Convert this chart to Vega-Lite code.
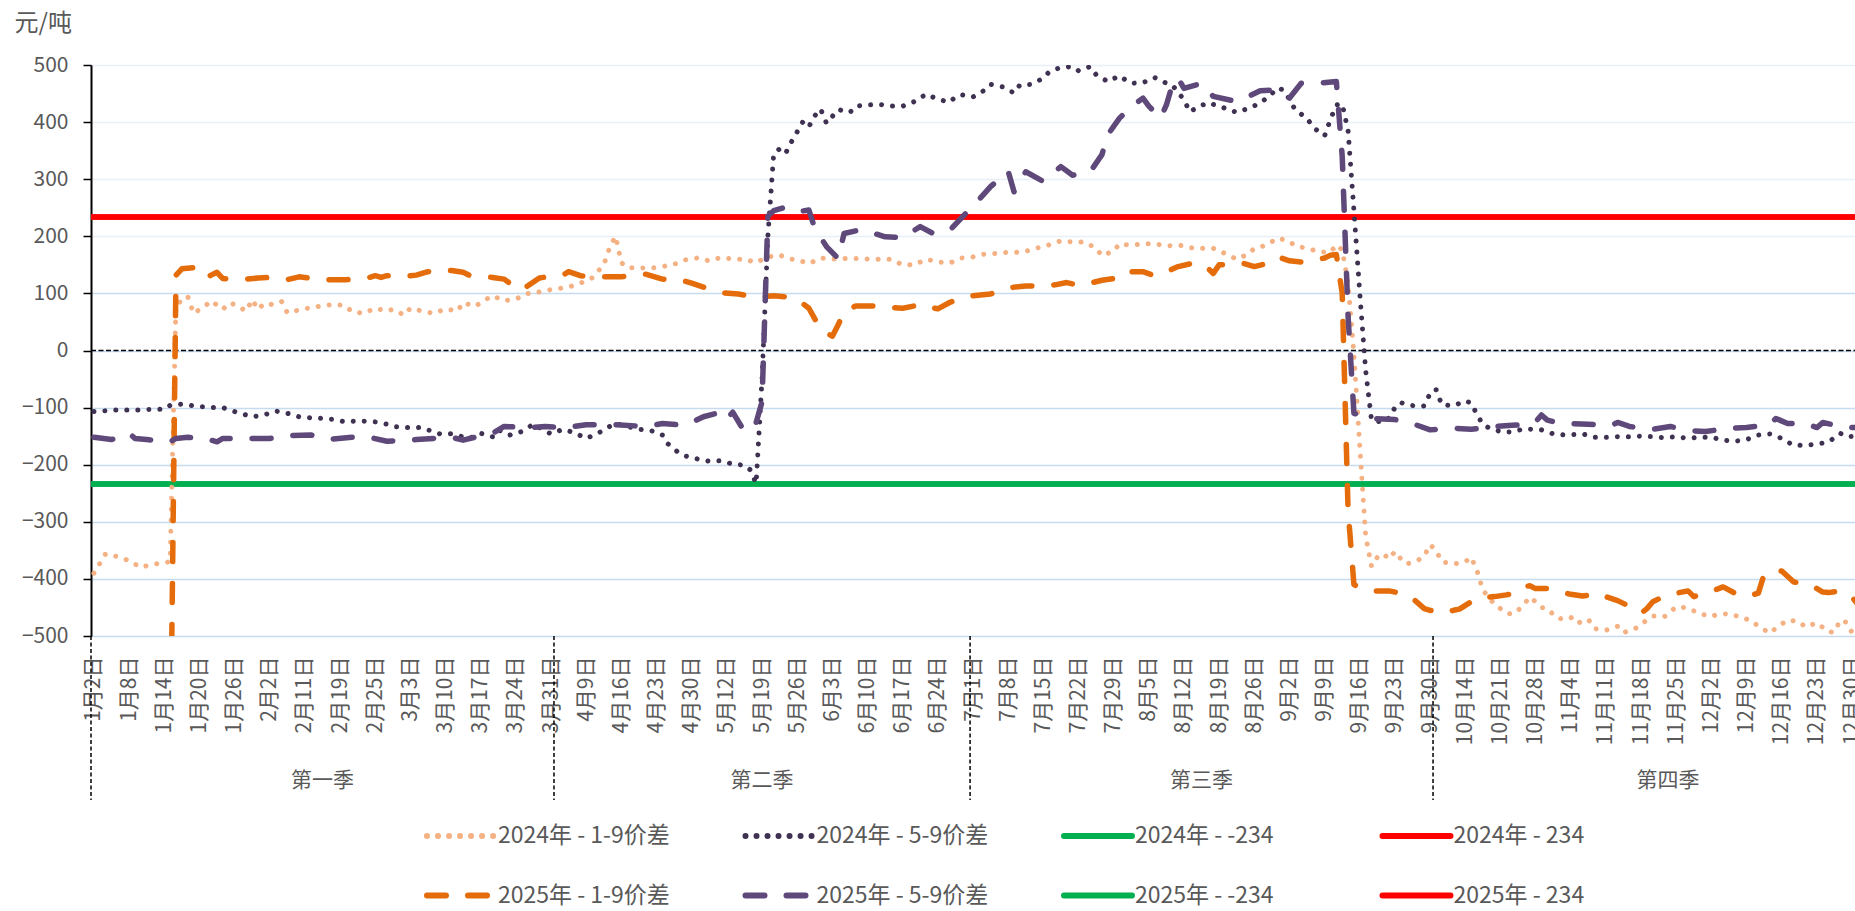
{
"$schema": "https://vega.github.io/schema/vega-lite/v6.json",
"width": 1764, "height": 571,
"autosize": {"type": "none"},
"padding": {"left": 91, "top": 65, "right": 0, "bottom": 275},
"background": "white",
"config": {"font": "Noto Sans CJK SC", "view": {"stroke": null}},
"datasets": {
"lim": [
{"s":"N24","i":-0.5,"v":-234},{"s":"N24","i":300.5,"v":-234},
{"s":"P24","i":-0.5,"v":234},{"s":"P24","i":300.5,"v":234},
{"s":"N25","i":-0.5,"v":-234},{"s":"N25","i":300.5,"v":-234},
{"s":"P25","i":-0.5,"v":234},{"s":"P25","i":300.5,"v":234}
],
"dot": [
{"s":"A","i":0,"v":-390},{"s":"A","i":1,"v":-373},{"s":"A","i":2,"v":-356},{"s":"A","i":4,"v":-361},{"s":"A","i":6,"v":-368},{"s":"A","i":8,"v":-380},{"s":"A","i":9,"v":-377},{"s":"A","i":11,"v":-373},{"s":"A","i":13,"v":-370},{"s":"A","i":14,"v":80},{"s":"A","i":16,"v":95},{"s":"A","i":17,"v":65},{"s":"A","i":19,"v":78},{"s":"A","i":20,"v":87},{"s":"A","i":22,"v":72},{"s":"A","i":23,"v":83},{"s":"A","i":24,"v":81},{"s":"A","i":26,"v":69},{"s":"A","i":27,"v":89},{"s":"A","i":28,"v":72},{"s":"A","i":29,"v":82},{"s":"A","i":30,"v":80},{"s":"A","i":32,"v":86},{"s":"A","i":33,"v":66},{"s":"A","i":35,"v":71},{"s":"A","i":37,"v":75},{"s":"A","i":39,"v":78},{"s":"A","i":41,"v":81},{"s":"A","i":43,"v":78},{"s":"A","i":44,"v":68},{"s":"A","i":46,"v":65},{"s":"A","i":48,"v":74},{"s":"A","i":50,"v":69},{"s":"A","i":51,"v":72},{"s":"A","i":53,"v":62},{"s":"A","i":54,"v":74},{"s":"A","i":56,"v":69},{"s":"A","i":58,"v":65},{"s":"A","i":60,"v":73},{"s":"A","i":62,"v":69},{"s":"A","i":63,"v":84},{"s":"A","i":65,"v":77},{"s":"A","i":67,"v":90},{"s":"A","i":68,"v":96},{"s":"A","i":70,"v":87},{"s":"A","i":72,"v":90},{"s":"A","i":74,"v":100},{"s":"A","i":75,"v":100},{"s":"A","i":77,"v":105},{"s":"A","i":79,"v":108},{"s":"A","i":81,"v":111},{"s":"A","i":83,"v":118},{"s":"A","i":85,"v":127},{"s":"A","i":87,"v":150},{"s":"A","i":88,"v":180},{"s":"A","i":89,"v":200},{"s":"A","i":90,"v":154},{"s":"A","i":91,"v":145},{"s":"A","i":93,"v":145},{"s":"A","i":95,"v":144},{"s":"A","i":97,"v":147},{"s":"A","i":99,"v":151},{"s":"A","i":101,"v":159},{"s":"A","i":103,"v":162},{"s":"A","i":105,"v":157},{"s":"A","i":107,"v":163},{"s":"A","i":109,"v":160},{"s":"A","i":111,"v":160},{"s":"A","i":113,"v":154},{"s":"A","i":115,"v":164},{"s":"A","i":117,"v":167},{"s":"A","i":119,"v":160},{"s":"A","i":120,"v":159},{"s":"A","i":122,"v":152},{"s":"A","i":124,"v":162},{"s":"A","i":126,"v":160},{"s":"A","i":128,"v":161},{"s":"A","i":130,"v":161},{"s":"A","i":132,"v":160},{"s":"A","i":134,"v":160},{"s":"A","i":136,"v":160},{"s":"A","i":138,"v":150},{"s":"A","i":140,"v":150},{"s":"A","i":142,"v":160},{"s":"A","i":144,"v":155},{"s":"A","i":146,"v":153},{"s":"A","i":148,"v":162},{"s":"A","i":150,"v":164},{"s":"A","i":152,"v":169},{"s":"A","i":154,"v":170},{"s":"A","i":156,"v":172},{"s":"A","i":158,"v":172},{"s":"A","i":160,"v":176},{"s":"A","i":162,"v":183},{"s":"A","i":163,"v":185},{"s":"A","i":165,"v":192},{"s":"A","i":167,"v":190},{"s":"A","i":169,"v":190},{"s":"A","i":171,"v":179},{"s":"A","i":172,"v":166},{"s":"A","i":174,"v":174},{"s":"A","i":175,"v":187},{"s":"A","i":177,"v":184},{"s":"A","i":179,"v":187},{"s":"A","i":181,"v":187},{"s":"A","i":183,"v":183},{"s":"A","i":185,"v":185},{"s":"A","i":187,"v":180},{"s":"A","i":189,"v":179},{"s":"A","i":191,"v":179},{"s":"A","i":193,"v":170},{"s":"A","i":195,"v":160},{"s":"A","i":197,"v":169},{"s":"A","i":198,"v":179},{"s":"A","i":200,"v":184},{"s":"A","i":202,"v":197},{"s":"A","i":204,"v":191},{"s":"A","i":205,"v":183},{"s":"A","i":207,"v":179},{"s":"A","i":209,"v":173},{"s":"A","i":211,"v":172},{"s":"A","i":212,"v":185},{"s":"A","i":213,"v":176},{"s":"A","i":214,"v":118},{"s":"A","i":215,"v":-8},{"s":"A","i":216,"v":-168},{"s":"A","i":217,"v":-325},{"s":"A","i":218,"v":-378},{"s":"A","i":219,"v":-362},{"s":"A","i":220,"v":-356},{"s":"A","i":221,"v":-365},{"s":"A","i":222,"v":-352},{"s":"A","i":223,"v":-365},{"s":"A","i":224,"v":-374},{"s":"A","i":226,"v":-367},{"s":"A","i":227,"v":-360},{"s":"A","i":228,"v":-340},{"s":"A","i":229,"v":-350},{"s":"A","i":230,"v":-370},{"s":"A","i":232,"v":-374},{"s":"A","i":234,"v":-370},{"s":"A","i":235,"v":-362},{"s":"A","i":236,"v":-385},{"s":"A","i":237,"v":-420},{"s":"A","i":238,"v":-432},{"s":"A","i":239,"v":-445},{"s":"A","i":240,"v":-452},{"s":"A","i":241,"v":-460},{"s":"A","i":242,"v":-462},{"s":"A","i":243,"v":-455},{"s":"A","i":244,"v":-445},{"s":"A","i":245,"v":-432},{"s":"A","i":246,"v":-440},{"s":"A","i":247,"v":-450},{"s":"A","i":248,"v":-452},{"s":"A","i":249,"v":-462},{"s":"A","i":250,"v":-470},{"s":"A","i":252,"v":-467},{"s":"A","i":253,"v":-478},{"s":"A","i":255,"v":-471},{"s":"A","i":256,"v":-487},{"s":"A","i":258,"v":-490},{"s":"A","i":260,"v":-483},{"s":"A","i":261,"v":-494},{"s":"A","i":263,"v":-487},{"s":"A","i":265,"v":-472},{"s":"A","i":266,"v":-465},{"s":"A","i":268,"v":-466},{"s":"A","i":270,"v":-449},{"s":"A","i":272,"v":-451},{"s":"A","i":274,"v":-461},{"s":"A","i":276,"v":-466},{"s":"A","i":277,"v":-462},{"s":"A","i":279,"v":-461},{"s":"A","i":281,"v":-467},{"s":"A","i":283,"v":-474},{"s":"A","i":284,"v":-483},{"s":"A","i":286,"v":-495},{"s":"A","i":287,"v":-486},{"s":"A","i":289,"v":-472},{"s":"A","i":291,"v":-475},{"s":"A","i":292,"v":-484},{"s":"A","i":294,"v":-477},{"s":"A","i":296,"v":-493},{"s":"A","i":297,"v":-493},{"s":"A","i":298,"v":-472},{"s":"A","i":299,"v":-476},{"s":"A","i":300,"v":-494},{"s":"A","i":301,"v":-490},
{"s":"B","i":0,"v":-107},{"s":"B","i":1,"v":-107},{"s":"B","i":3,"v":-104},{"s":"B","i":5,"v":-104},{"s":"B","i":8,"v":-104},{"s":"B","i":10,"v":-103},{"s":"B","i":12,"v":-103},{"s":"B","i":13,"v":-96},{"s":"B","i":15,"v":-94},{"s":"B","i":17,"v":-97},{"s":"B","i":20,"v":-100},{"s":"B","i":22,"v":-100},{"s":"B","i":24,"v":-107},{"s":"B","i":25,"v":-110},{"s":"B","i":27,"v":-116},{"s":"B","i":29,"v":-113},{"s":"B","i":31,"v":-106},{"s":"B","i":33,"v":-110},{"s":"B","i":35,"v":-116},{"s":"B","i":37,"v":-118},{"s":"B","i":39,"v":-119},{"s":"B","i":41,"v":-121},{"s":"B","i":43,"v":-125},{"s":"B","i":45,"v":-123},{"s":"B","i":48,"v":-125},{"s":"B","i":50,"v":-129},{"s":"B","i":51,"v":-133},{"s":"B","i":53,"v":-135},{"s":"B","i":56,"v":-135},{"s":"B","i":57,"v":-139},{"s":"B","i":59,"v":-146},{"s":"B","i":61,"v":-146},{"s":"B","i":64,"v":-154},{"s":"B","i":66,"v":-145},{"s":"B","i":68,"v":-151},{"s":"B","i":69,"v":-139},{"s":"B","i":71,"v":-148},{"s":"B","i":73,"v":-142},{"s":"B","i":75,"v":-129},{"s":"B","i":77,"v":-141},{"s":"B","i":78,"v":-146},{"s":"B","i":80,"v":-138},{"s":"B","i":82,"v":-144},{"s":"B","i":84,"v":-154},{"s":"B","i":86,"v":-145},{"s":"B","i":88,"v":-133},{"s":"B","i":89,"v":-128},{"s":"B","i":91,"v":-133},{"s":"B","i":93,"v":-138},{"s":"B","i":95,"v":-140},{"s":"B","i":97,"v":-148},{"s":"B","i":98,"v":-164},{"s":"B","i":100,"v":-181},{"s":"B","i":101,"v":-185},{"s":"B","i":103,"v":-190},{"s":"B","i":105,"v":-194},{"s":"B","i":107,"v":-193},{"s":"B","i":109,"v":-199},{"s":"B","i":111,"v":-201},{"s":"B","i":112,"v":-209},{"s":"B","i":113,"v":-233},{"s":"B","i":114,"v":-50},{"s":"B","i":115,"v":200},{"s":"B","i":116,"v":345},{"s":"B","i":117,"v":353},{"s":"B","i":118,"v":345},{"s":"B","i":119,"v":365},{"s":"B","i":120,"v":383},{"s":"B","i":121,"v":401},{"s":"B","i":122,"v":392},{"s":"B","i":123,"v":411},{"s":"B","i":124,"v":423},{"s":"B","i":125,"v":398},{"s":"B","i":127,"v":422},{"s":"B","i":129,"v":417},{"s":"B","i":130,"v":428},{"s":"B","i":132,"v":430},{"s":"B","i":134,"v":431},{"s":"B","i":136,"v":428},{"s":"B","i":138,"v":428},{"s":"B","i":140,"v":436},{"s":"B","i":142,"v":449},{"s":"B","i":144,"v":440},{"s":"B","i":146,"v":435},{"s":"B","i":147,"v":444},{"s":"B","i":148,"v":448},{"s":"B","i":150,"v":444},{"s":"B","i":152,"v":456},{"s":"B","i":153,"v":466},{"s":"B","i":155,"v":462},{"s":"B","i":157,"v":451},{"s":"B","i":158,"v":465},{"s":"B","i":160,"v":466},{"s":"B","i":162,"v":477},{"s":"B","i":163,"v":488},{"s":"B","i":165,"v":496},{"s":"B","i":167,"v":497},{"s":"B","i":168,"v":490},{"s":"B","i":170,"v":497},{"s":"B","i":171,"v":483},{"s":"B","i":173,"v":471},{"s":"B","i":175,"v":481},{"s":"B","i":176,"v":474},{"s":"B","i":177,"v":468},{"s":"B","i":179,"v":469},{"s":"B","i":181,"v":478},{"s":"B","i":183,"v":468},{"s":"B","i":184,"v":465},{"s":"B","i":186,"v":439},{"s":"B","i":187,"v":418},{"s":"B","i":188,"v":424},{"s":"B","i":190,"v":434},{"s":"B","i":192,"v":428},{"s":"B","i":195,"v":417},{"s":"B","i":197,"v":424},{"s":"B","i":199,"v":433},{"s":"B","i":201,"v":450},{"s":"B","i":202,"v":460},{"s":"B","i":203,"v":456},{"s":"B","i":204,"v":440},{"s":"B","i":205,"v":421},{"s":"B","i":207,"v":407},{"s":"B","i":208,"v":391},{"s":"B","i":210,"v":376},{"s":"B","i":211,"v":405},{"s":"B","i":212,"v":430},{"s":"B","i":213,"v":432},{"s":"B","i":214,"v":385},{"s":"B","i":215,"v":245},{"s":"B","i":216,"v":100},{"s":"B","i":217,"v":-35},{"s":"B","i":218,"v":-122},{"s":"B","i":220,"v":-126},{"s":"B","i":221,"v":-118},{"s":"B","i":222,"v":-100},{"s":"B","i":223,"v":-91},{"s":"B","i":224,"v":-95},{"s":"B","i":226,"v":-98},{"s":"B","i":227,"v":-97},{"s":"B","i":228,"v":-75},{"s":"B","i":229,"v":-68},{"s":"B","i":230,"v":-95},{"s":"B","i":232,"v":-97},{"s":"B","i":234,"v":-88},{"s":"B","i":235,"v":-92},{"s":"B","i":236,"v":-112},{"s":"B","i":237,"v":-130},{"s":"B","i":238,"v":-135},{"s":"B","i":240,"v":-142},{"s":"B","i":242,"v":-143},{"s":"B","i":244,"v":-137},{"s":"B","i":247,"v":-139},{"s":"B","i":249,"v":-146},{"s":"B","i":251,"v":-148},{"s":"B","i":253,"v":-147},{"s":"B","i":254,"v":-146},{"s":"B","i":256,"v":-152},{"s":"B","i":258,"v":-152},{"s":"B","i":260,"v":-151},{"s":"B","i":262,"v":-151},{"s":"B","i":264,"v":-150},{"s":"B","i":266,"v":-151},{"s":"B","i":268,"v":-153},{"s":"B","i":270,"v":-151},{"s":"B","i":272,"v":-154},{"s":"B","i":274,"v":-152},{"s":"B","i":276,"v":-152},{"s":"B","i":278,"v":-157},{"s":"B","i":280,"v":-159},{"s":"B","i":282,"v":-156},{"s":"B","i":284,"v":-148},{"s":"B","i":286,"v":-146},{"s":"B","i":288,"v":-154},{"s":"B","i":290,"v":-166},{"s":"B","i":292,"v":-166},{"s":"B","i":294,"v":-164},{"s":"B","i":296,"v":-160},{"s":"B","i":298,"v":-145},{"s":"B","i":299,"v":-151},{"s":"B","i":301,"v":-150}
],
"dash": [
{"s":"C","i":0,"v":-620},{"s":"C","i":2,"v":-580},{"s":"C","i":4,"v":-530},{"s":"C","i":5,"v":-505},{"s":"C","i":6,"v":-508},{"s":"C","i":8,"v":-560},{"s":"C","i":10,"v":-620},{"s":"C","i":12,"v":-700},{"s":"C","i":13,"v":-760},{"s":"C","i":14,"v":132},{"s":"C","i":15,"v":143},{"s":"C","i":17,"v":145},{"s":"C","i":19,"v":127},{"s":"C","i":20,"v":132},{"s":"C","i":21,"v":137},{"s":"C","i":22,"v":126},{"s":"C","i":24,"v":124},{"s":"C","i":26,"v":125},{"s":"C","i":28,"v":127},{"s":"C","i":30,"v":128},{"s":"C","i":33,"v":124},{"s":"C","i":35,"v":129},{"s":"C","i":36,"v":128},{"s":"C","i":38,"v":125},{"s":"C","i":40,"v":124},{"s":"C","i":43,"v":124},{"s":"C","i":45,"v":125},{"s":"C","i":47,"v":128},{"s":"C","i":48,"v":131},{"s":"C","i":49,"v":128},{"s":"C","i":50,"v":131},{"s":"C","i":52,"v":131},{"s":"C","i":54,"v":131},{"s":"C","i":55,"v":132},{"s":"C","i":57,"v":138},{"s":"C","i":59,"v":140},{"s":"C","i":61,"v":140},{"s":"C","i":63,"v":137},{"s":"C","i":64,"v":132},{"s":"C","i":66,"v":131},{"s":"C","i":68,"v":128},{"s":"C","i":70,"v":125},{"s":"C","i":72,"v":110},{"s":"C","i":73,"v":106},{"s":"C","i":75,"v":120},{"s":"C","i":76,"v":127},{"s":"C","i":78,"v":130},{"s":"C","i":80,"v":132},{"s":"C","i":81,"v":138},{"s":"C","i":83,"v":131},{"s":"C","i":85,"v":129},{"s":"C","i":87,"v":129},{"s":"C","i":90,"v":129},{"s":"C","i":92,"v":131},{"s":"C","i":94,"v":134},{"s":"C","i":97,"v":125},{"s":"C","i":100,"v":124},{"s":"C","i":102,"v":118},{"s":"C","i":104,"v":111},{"s":"C","i":107,"v":101},{"s":"C","i":110,"v":99},{"s":"C","i":113,"v":93},{"s":"C","i":116,"v":96},{"s":"C","i":118,"v":94},{"s":"C","i":120,"v":90},{"s":"C","i":122,"v":74},{"s":"C","i":124,"v":37},{"s":"C","i":126,"v":25},{"s":"C","i":127,"v":45},{"s":"C","i":128,"v":68},{"s":"C","i":130,"v":78},{"s":"C","i":133,"v":78},{"s":"C","i":135,"v":76},{"s":"C","i":138,"v":74},{"s":"C","i":140,"v":78},{"s":"C","i":141,"v":81},{"s":"C","i":143,"v":75},{"s":"C","i":144,"v":73},{"s":"C","i":146,"v":84},{"s":"C","i":148,"v":92},{"s":"C","i":150,"v":96},{"s":"C","i":153,"v":99},{"s":"C","i":155,"v":106},{"s":"C","i":157,"v":111},{"s":"C","i":159,"v":113},{"s":"C","i":162,"v":113},{"s":"C","i":164,"v":115},{"s":"C","i":166,"v":119},{"s":"C","i":168,"v":114},{"s":"C","i":170,"v":118},{"s":"C","i":172,"v":123},{"s":"C","i":174,"v":126},{"s":"C","i":175,"v":136},{"s":"C","i":177,"v":138},{"s":"C","i":179,"v":138},{"s":"C","i":181,"v":131},{"s":"C","i":183,"v":138},{"s":"C","i":185,"v":147},{"s":"C","i":188,"v":154},{"s":"C","i":190,"v":145},{"s":"C","i":191,"v":135},{"s":"C","i":192,"v":150},{"s":"C","i":194,"v":150},{"s":"C","i":196,"v":153},{"s":"C","i":198,"v":147},{"s":"C","i":200,"v":152},{"s":"C","i":202,"v":164},{"s":"C","i":204,"v":157},{"s":"C","i":206,"v":155},{"s":"C","i":208,"v":157},{"s":"C","i":209,"v":160},{"s":"C","i":210,"v":162},{"s":"C","i":211,"v":167},{"s":"C","i":212,"v":168},{"s":"C","i":213,"v":100},{"s":"C","i":214,"v":-280},{"s":"C","i":215,"v":-410},{"s":"C","i":216,"v":-415},{"s":"C","i":218,"v":-421},{"s":"C","i":221,"v":-421},{"s":"C","i":223,"v":-425},{"s":"C","i":225,"v":-434},{"s":"C","i":227,"v":-452},{"s":"C","i":228,"v":-455},{"s":"C","i":230,"v":-460},{"s":"C","i":232,"v":-455},{"s":"C","i":233,"v":-453},{"s":"C","i":235,"v":-440},{"s":"C","i":236,"v":-433},{"s":"C","i":239,"v":-431},{"s":"C","i":241,"v":-428},{"s":"C","i":243,"v":-424},{"s":"C","i":244,"v":-414},{"s":"C","i":245,"v":-412},{"s":"C","i":246,"v":-417},{"s":"C","i":248,"v":-417},{"s":"C","i":250,"v":-422},{"s":"C","i":252,"v":-427},{"s":"C","i":254,"v":-430},{"s":"C","i":256,"v":-427},{"s":"C","i":257,"v":-425},{"s":"C","i":258,"v":-431},{"s":"C","i":260,"v":-438},{"s":"C","i":262,"v":-448},{"s":"C","i":264,"v":-460},{"s":"C","i":265,"v":-452},{"s":"C","i":266,"v":-440},{"s":"C","i":268,"v":-430},{"s":"C","i":270,"v":-425},{"s":"C","i":272,"v":-421},{"s":"C","i":273,"v":-431},{"s":"C","i":275,"v":-424},{"s":"C","i":277,"v":-418},{"s":"C","i":278,"v":-414},{"s":"C","i":280,"v":-425},{"s":"C","i":281,"v":-430},{"s":"C","i":283,"v":-428},{"s":"C","i":284,"v":-425},{"s":"C","i":285,"v":-392},{"s":"C","i":287,"v":-386},{"s":"C","i":288,"v":-386},{"s":"C","i":290,"v":-405},{"s":"C","i":292,"v":-410},{"s":"C","i":293,"v":-411},{"s":"C","i":295,"v":-423},{"s":"C","i":296,"v":-424},{"s":"C","i":298,"v":-421},{"s":"C","i":300,"v":-432},{"s":"C","i":301,"v":-445},
{"s":"D","i":0,"v":-152},{"s":"D","i":3,"v":-156},{"s":"D","i":5,"v":-150},{"s":"D","i":6,"v":-145},{"s":"D","i":7,"v":-154},{"s":"D","i":9,"v":-156},{"s":"D","i":13,"v":-160},{"s":"D","i":14,"v":-154},{"s":"D","i":16,"v":-152},{"s":"D","i":19,"v":-154},{"s":"D","i":21,"v":-160},{"s":"D","i":22,"v":-154},{"s":"D","i":26,"v":-154},{"s":"D","i":30,"v":-154},{"s":"D","i":33,"v":-149},{"s":"D","i":37,"v":-148},{"s":"D","i":40,"v":-156},{"s":"D","i":44,"v":-152},{"s":"D","i":47,"v":-152},{"s":"D","i":50,"v":-159},{"s":"D","i":55,"v":-156},{"s":"D","i":58,"v":-154},{"s":"D","i":61,"v":-152},{"s":"D","i":63,"v":-157},{"s":"D","i":65,"v":-152},{"s":"D","i":68,"v":-145},{"s":"D","i":70,"v":-133},{"s":"D","i":74,"v":-135},{"s":"D","i":77,"v":-133},{"s":"D","i":81,"v":-136},{"s":"D","i":82,"v":-133},{"s":"D","i":84,"v":-130},{"s":"D","i":87,"v":-130},{"s":"D","i":89,"v":-130},{"s":"D","i":94,"v":-133},{"s":"D","i":97,"v":-128},{"s":"D","i":101,"v":-131},{"s":"D","i":104,"v":-116},{"s":"D","i":107,"v":-108},{"s":"D","i":108,"v":-120},{"s":"D","i":109,"v":-108},{"s":"D","i":111,"v":-142},{"s":"D","i":112,"v":-130},{"s":"D","i":113,"v":-126},{"s":"D","i":114,"v":-90},{"s":"D","i":115,"v":235},{"s":"D","i":116,"v":245},{"s":"D","i":118,"v":251},{"s":"D","i":120,"v":243},{"s":"D","i":122,"v":246},{"s":"D","i":123,"v":214},{"s":"D","i":125,"v":182},{"s":"D","i":127,"v":161},{"s":"D","i":128,"v":205},{"s":"D","i":131,"v":212},{"s":"D","i":135,"v":199},{"s":"D","i":138,"v":198},{"s":"D","i":141,"v":217},{"s":"D","i":143,"v":206},{"s":"D","i":146,"v":210},{"s":"D","i":148,"v":232},{"s":"D","i":151,"v":264},{"s":"D","i":153,"v":287},{"s":"D","i":156,"v":314},{"s":"D","i":157,"v":278},{"s":"D","i":159,"v":313},{"s":"D","i":162,"v":296},{"s":"D","i":165,"v":322},{"s":"D","i":167,"v":307},{"s":"D","i":170,"v":313},{"s":"D","i":172,"v":343},{"s":"D","i":173,"v":378},{"s":"D","i":175,"v":407},{"s":"D","i":177,"v":427},{"s":"D","i":179,"v":442},{"s":"D","i":180,"v":428},{"s":"D","i":182,"v":407},{"s":"D","i":183,"v":430},{"s":"D","i":184,"v":465},{"s":"D","i":185,"v":477},{"s":"D","i":186,"v":459},{"s":"D","i":189,"v":468},{"s":"D","i":191,"v":445},{"s":"D","i":195,"v":436},{"s":"D","i":197,"v":445},{"s":"D","i":199,"v":455},{"s":"D","i":201,"v":456},{"s":"D","i":204,"v":442},{"s":"D","i":206,"v":468},{"s":"D","i":209,"v":468},{"s":"D","i":212,"v":471},{"s":"D","i":213,"v":340},{"s":"D","i":214,"v":60},{"s":"D","i":215,"v":-110},{"s":"D","i":218,"v":-119},{"s":"D","i":222,"v":-121},{"s":"D","i":225,"v":-128},{"s":"D","i":228,"v":-139},{"s":"D","i":232,"v":-136},{"s":"D","i":235,"v":-138},{"s":"D","i":239,"v":-133},{"s":"D","i":242,"v":-131},{"s":"D","i":244,"v":-130},{"s":"D","i":246,"v":-125},{"s":"D","i":247,"v":-113},{"s":"D","i":248,"v":-122},{"s":"D","i":250,"v":-127},{"s":"D","i":252,"v":-128},{"s":"D","i":255,"v":-129},{"s":"D","i":259,"v":-131},{"s":"D","i":260,"v":-126},{"s":"D","i":262,"v":-133},{"s":"D","i":266,"v":-138},{"s":"D","i":269,"v":-133},{"s":"D","i":272,"v":-140},{"s":"D","i":275,"v":-142},{"s":"D","i":279,"v":-136},{"s":"D","i":282,"v":-135},{"s":"D","i":286,"v":-129},{"s":"D","i":287,"v":-119},{"s":"D","i":289,"v":-128},{"s":"D","i":292,"v":-128},{"s":"D","i":294,"v":-135},{"s":"D","i":295,"v":-126},{"s":"D","i":299,"v":-135},{"s":"D","i":301,"v":-135}
]
},
"encoding": {
"x": {"field": "i", "type": "quantitative", "scale": {"domain": [-0.5, 300.5], "nice": false, "zero": false},
 "axis": {"values": [0,6,12,18,24,30,36,42,48,54,60,66,72,78,84,90,96,102,108,114,120,126,132,138,144,150,156,162,168,174,180,186,192,198,204,210,216,222,228,234,240,246,252,258,264,270,276,282,288,294,300],
  "labelExpr": "['1月2日','1月8日','1月14日','1月20日','1月26日','2月2日','2月11日','2月19日','2月25日','3月3日','3月10日','3月17日','3月24日','3月31日','4月9日','4月16日','4月23日','4月30日','5月12日','5月19日','5月26日','6月3日','6月10日','6月17日','6月24日','7月1日','7月8日','7月15日','7月22日','7月29日','8月5日','8月12日','8月19日','8月26日','9月2日','9月9日','9月16日','9月23日','9月30日','10月14日','10月21日','10月28日','11月4日','11月11日','11月18日','11月25日','12月2日','12月9日','12月16日','12月23日','12月30日'][round(datum.value/6)]",
  "labelAngle": 270, "labelFontSize": 21, "labelColor": "#595959", "ticks": false, "tickSize": 0, "domain": false, "grid": false,
  "labelPadding": 20, "labelFlush": false, "labelOverlap": false, "labelBound": false, "title": null}}
},
"layer": [
{"data": {"values": [{"i": -0.5, "v": 0}, {"i": 300.5, "v": 0}]},
 "mark": {"type": "line", "color": "#000000", "strokeDash": [5, 2.5], "strokeWidth": 1.5},
 "encoding": {
  "y": {"field": "v", "type": "quantitative", "scale": {"domain": [-500, 500], "nice": false, "zero": false},
   "axis": {"values": [-500,-400,-300,-200,-100,0,100,200,300,400,500],
    "title": "元/吨", "titleAngle": 0, "titleAlign": "left", "titleBaseline": "middle", "titleX": -77, "titleY": -42,
    "titleFontSize": 24, "titleFontWeight": "normal", "titleColor": "#595959",
    "labelFontSize": 21, "labelColor": "#595959", "labelPadding": 15, "labelFlush": false,
    "tickSize": 8, "tickColor": "#000000", "tickWidth": 1.5, "domainColor": "#000000", "domainWidth": 2,
    "grid": true, "gridWidth": 1.3,
    "gridColor": {"condition": {"test": "datum.value >= 200", "value": "#e8eff8"}, "value": "#c6dbf0"}}}}},
{"data": {"name": "lim"},
 "mark": {"type": "line", "strokeWidth": 5.5, "strokeCap": "butt"},
 "encoding": {
  "y": {"field": "v", "type": "quantitative"},
  "color": {"field": "s", "type": "nominal",
   "scale": {"domain": ["A","B","N24","P24","C","D","N25","P25"], "range": ["#f4b183","#3f3151","#00b050","#ff0000","#e46c0a","#5f497a","#00b050","#ff0000"]},
   "legend": {"title": null, "orient": "none", "legendX": 333, "legendY": 734, "direction": "horizontal", "columns": 4, "gridAlign": "all",
    "symbolType": "stroke", "symbolSize": 4624, "symbolStrokeWidth": 6, "labelFontSize": 23, "labelColor": "#595959", "labelOffset": 0,
    "columnPadding": 63.5, "rowPadding": 10.5, "padding": 0, "labelLimit": 300,
    "labelExpr": "{'A':'2024年 - 1-9价差','B':'2024年 - 5-9价差','N24':'2024年 - -234','P24':'2024年 - 234','C':'2025年 - 1-9价差','D':'2025年 - 5-9价差','N25':'2025年 - -234','P25':'2025年 - 234'}[datum.label]",
    "encode": {"symbols": {"update": {"strokeCap": {"value": "round"}}}}}},
  "strokeDash": {"field": "s", "type": "nominal",
   "scale": {"domain": ["A","B","N24","P24","C","D","N25","P25"], "range": [[0.01,11],[0.01,11],[1,0],[1,0],[19,22],[19,22],[1,0],[1,0]]}}
 }},
{"data": {"name": "dot"},
 "mark": {"type": "line", "strokeWidth": 5, "strokeCap": "round", "strokeJoin": "round", "clip": true},
 "encoding": {
  "y": {"field": "v", "type": "quantitative"},
  "color": {"field": "s", "type": "nominal",
   "scale": {"domain": ["A","B","N24","P24","C","D","N25","P25"], "range": ["#f4b183","#3f3151","#00b050","#ff0000","#e46c0a","#5f497a","#00b050","#ff0000"]}},
  "strokeDash": {"field": "s", "type": "nominal",
   "scale": {"domain": ["A","B","N24","P24","C","D","N25","P25"], "range": [[0.01,11],[0.01,11],[1,0],[1,0],[19,22],[19,22],[1,0],[1,0]]}}
 }},
{"data": {"name": "dash"},
 "mark": {"type": "line", "strokeWidth": 5.5, "strokeCap": "round", "strokeJoin": "round", "clip": true},
 "encoding": {
  "y": {"field": "v", "type": "quantitative"},
  "color": {"field": "s", "type": "nominal",
   "scale": {"domain": ["A","B","N24","P24","C","D","N25","P25"], "range": ["#f4b183","#3f3151","#00b050","#ff0000","#e46c0a","#5f497a","#00b050","#ff0000"]}},
  "strokeDash": {"field": "s", "type": "nominal",
   "scale": {"domain": ["A","B","N24","P24","C","D","N25","P25"], "range": [[0.01,11],[0.01,11],[1,0],[1,0],[19,22],[19,22],[1,0],[1,0]]}}
 }},
{"data": {"values": [{"i": -0.5}, {"i": 78.5}, {"i": 149.5}, {"i": 228.5}]},
 "mark": {"type": "rule", "color": "#000000", "strokeDash": [4, 2.5], "strokeWidth": 1.5},
 "encoding": {"y": {"datum": -500, "type": "quantitative"}, "y2": {"datum": -787}}},
{"data": {"values": [{"i": 39, "q": "第一季"}, {"i": 114, "q": "第二季"}, {"i": 189, "q": "第三季"}, {"i": 268.6, "q": "第四季"}]},
 "mark": {"type": "text", "fontSize": 21, "color": "#595959", "align": "center", "baseline": "middle"},
 "encoding": {"y": {"datum": -754, "type": "quantitative"}, "text": {"field": "q"}}}
]
}
